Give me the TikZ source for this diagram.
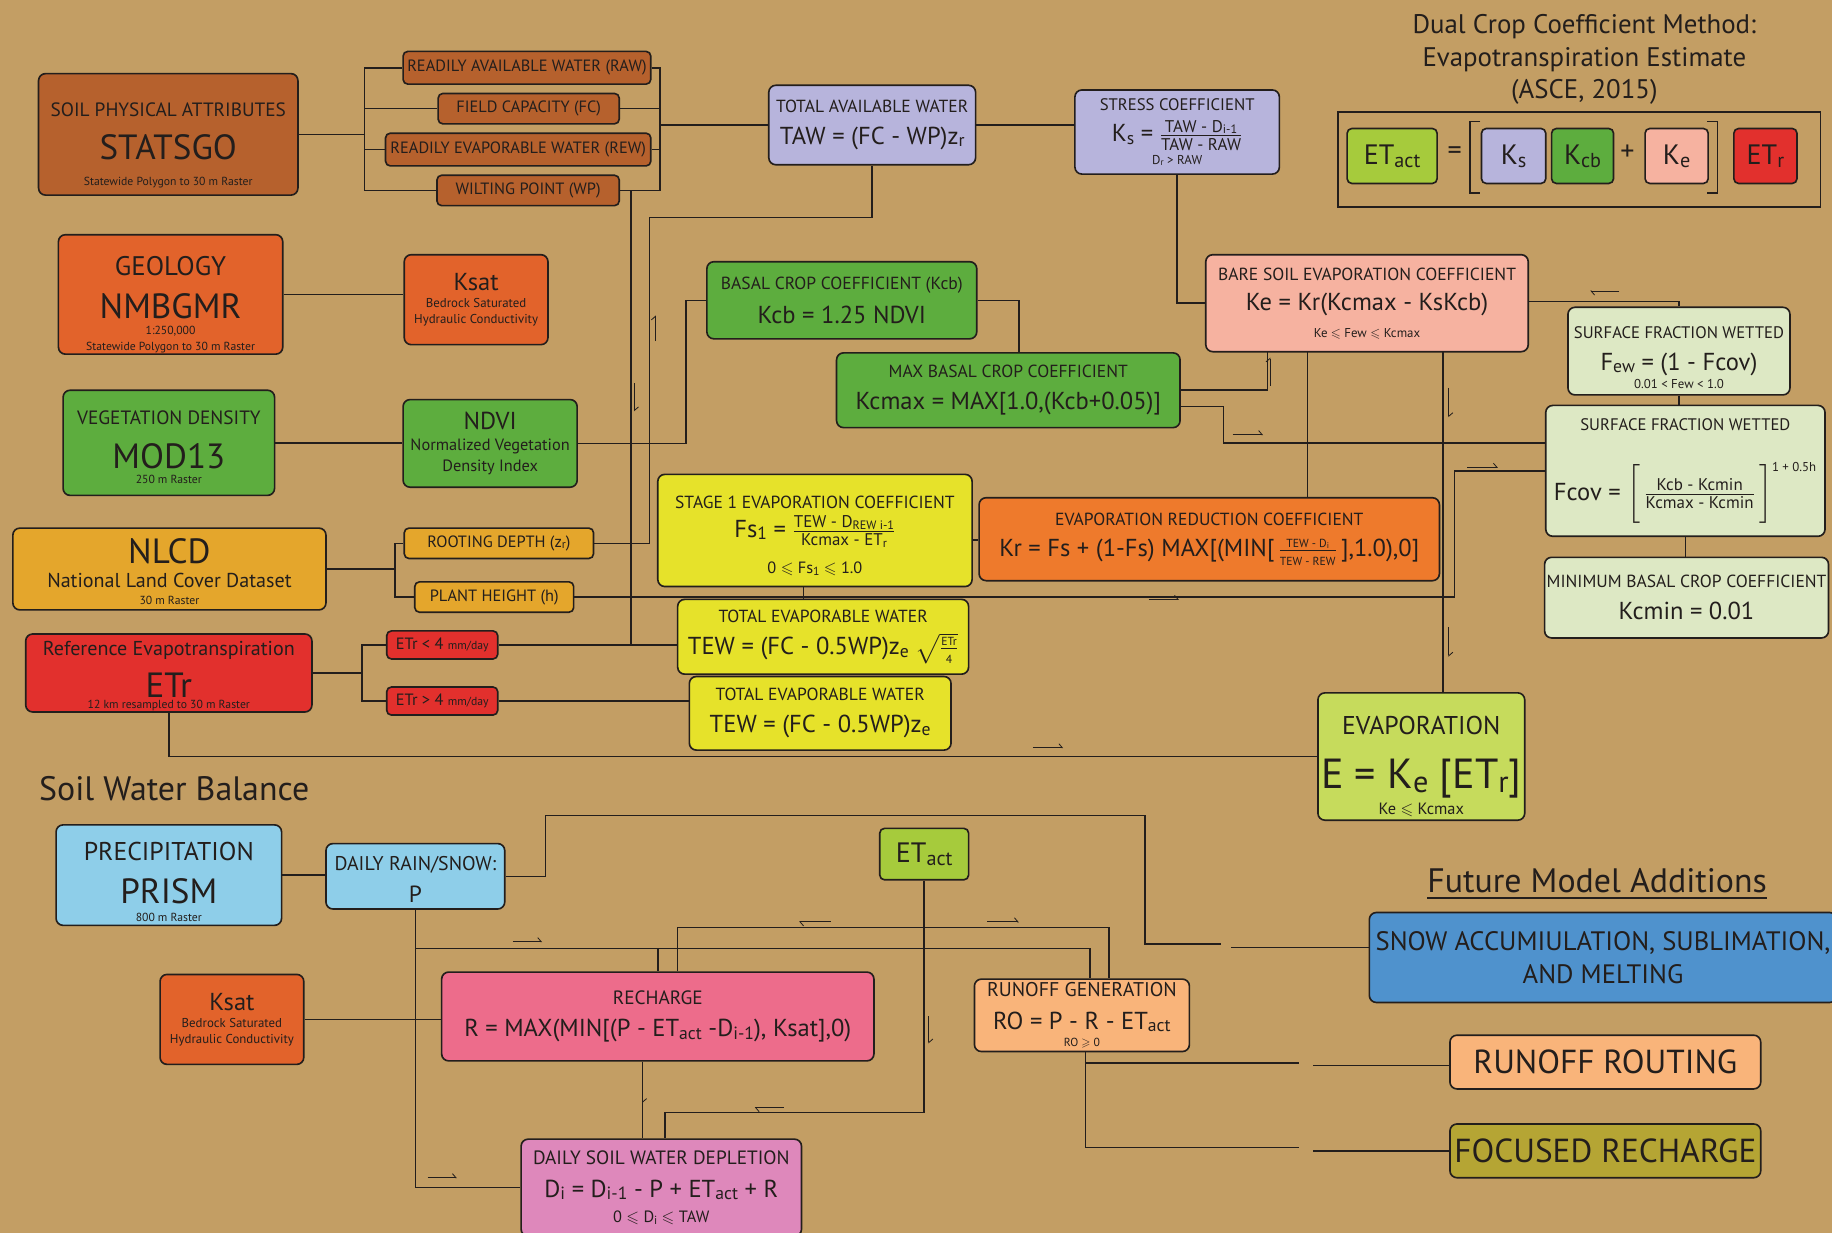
\documentclass[tikz,border=0pt]{standalone}
\usepackage{amsmath,amssymb}
\usepackage{fontspec}
\setmainfont{PT Sans}
\usetikzlibrary{arrows.meta}
\definecolor{tanbg}{RGB}{195,158,100}
\definecolor{ink}{RGB}{35,30,28}
\definecolor{soilbrown}{RGB}{182,97,45}
\definecolor{geoorange}{RGB}{226,99,43}
\definecolor{veggreen}{RGB}{93,173,62}
\definecolor{lcyellow}{RGB}{228,166,44}
\definecolor{etred}{RGB}{226,48,45}
\definecolor{lavender}{RGB}{183,180,220}
\definecolor{salmon}{RGB}{246,178,160}
\definecolor{palegreen}{RGB}{221,232,196}
\definecolor{lemon}{RGB}{230,226,42}
\definecolor{krorange}{RGB}{238,122,44}
\definecolor{evlime}{RGB}{198,219,92}
\definecolor{actlime}{RGB}{166,203,60}
\definecolor{skyblue}{RGB}{142,206,233}
\definecolor{rechpink}{RGB}{237,108,139}
\definecolor{deplpink}{RGB}{222,136,187}
\definecolor{peach}{RGB}{249,180,122}
\definecolor{snowblue}{RGB}{79,146,205}
\definecolor{olive}{RGB}{181,165,52}
% font sizes
\newcommand{\fsrccap}{\fontsize{16.5}{16.5}\selectfont}
\newcommand{\fgeo}{\fontsize{23}{23}\selectfont}
\newcommand{\fsrc}{\fontsize{30}{30}\selectfont}
\newcommand{\fnote}{\fontsize{10}{10}\selectfont}
\newcommand{\fmid}{\fontsize{17.2}{17.2}\selectfont}
\newcommand{\fksat}{\fontsize{21}{21}\selectfont}
\newcommand{\fsmall}{\fontsize{11}{11}\selectfont}
\newcommand{\fndvi}{\fontsize{14}{14}\selectfont}
\newcommand{\fchip}{\fontsize{14}{14}\selectfont}
\newcommand{\fcapt}{\fontsize{15}{15}\selectfont}
\newcommand{\fcapts}{\fontsize{14.3}{14.3}\selectfont}
\newcommand{\fcaptl}{\fontsize{16.5}{16.5}\selectfont}
\newcommand{\ffrac}{\fontsize{14.5}{14.5}\selectfont}
\newcommand{\feqn}{\fontsize{21}{21}\selectfont}
\newcommand{\fev}{\fontsize{36}{36}\selectfont}
\newcommand{\fevc}{\fontsize{22}{22}\selectfont}
\newcommand{\frocap}{\fontsize{17}{17}\selectfont}
\newcommand{\fcond}{\fontsize{14}{14}\selectfont}
\newcommand{\fcondsm}{\fontsize{11}{11}\selectfont}
\newcommand{\frain}{\fontsize{20}{20}\selectfont}
\newcommand{\fbig}{\fontsize{24}{24}\selectfont}
\newcommand{\fhead}{\fontsize{29}{29}\selectfont}
\newcommand{\ffut}{\fontsize{28.5}{28.5}\selectfont}
\newcommand{\fsnow}{\fontsize{22.8}{22.8}\selectfont}
\newcommand{\ftitle}{\fontsize{23}{28}\selectfont}
\newcommand{\lo}[1]{\raisebox{-0.1em}{\scalebox{0.72}{#1}}}
\newcommand{\tp}[1]{\rule{0pt}{#1pt}}
\tikzset{
  box/.style   = {draw=ink, line width=1.4pt, rounded corners=6pt, align=center, inner sep=1pt, text=ink, font=\fontsize{1}{1}\selectfont},
  chip/.style  = {box, rounded corners=4pt, fill=soilbrown},
  wh/.style 2 args = {minimum width=#1pt, minimum height=#2pt},
  wire/.style  = {draw=ink, line width=1.3pt},
  flowmark/.style = {draw=ink, line width=0.7pt, -{Straight Barb[left,length=3pt,width=7pt]}},
}
\begin{document}
\begin{tikzpicture}[x=1pt,y=-1pt]
  \useasboundingbox (0,0) rectangle (1568,1055);
  \fill[tanbg] (0,0) rectangle (1568,1055);

  % dual crop coefficient method
  \node[align=center, text=ink, font=\ftitle] (title) at (1356,51) {Dual Crop Coefficient Method:\\Evapotranspiration Estimate\\(ASCE, 2015)};
  \node[draw=ink, line width=1.3pt, wh={413}{81}] (eqframe) at (1351.5,136.5) {};
  \node[box, rounded corners=4pt, fill=actlime, wh={77}{47}] (etacteq) at (1191.5,133.5) {{\fbig ET\lo{act}}};
  \node[text=ink, font=\fbig] (eqsign) at (1245,131) {=};
  \node[box, rounded corners=4pt, fill=lavender, wh={55}{47}] (kseq) at (1295.5,133.5) {{\fbig K\lo{s}}};
  \node[box, rounded corners=4pt, fill=veggreen, wh={53}{47}] (kcbeq) at (1354.5,133.5) {{\fbig K\lo{cb}}};
  \node[text=ink, font=\fbig] (plussign) at (1393,131) {+};
  \node[box, rounded corners=4pt, fill=salmon, wh={54}{47}] (keeq) at (1435,133.5) {{\fbig K\lo{e}}};
  \node[box, rounded corners=4pt, fill=etred, wh={54}{47}] (etreq) at (1511,133.5) {{\fbig ET\lo{r}}};
  \draw[wire] (1267,104) -| (1258,165) -- (1267,165);
  \draw[wire] (1461,104) -| (1470,165) -- (1461,165);

  % data sources
  \node[box, fill=soilbrown, wh={222}{104}] (statsgo) at (144,115)
    {\tp{30.4}{\fsrccap SOIL PHYSICAL ATTRIBUTES}\\[14.7pt]{\fsrc STATSGO}\\[13.7pt]{\fnote Statewide Polygon to 30 m Raster}};
  \node[box, fill=geoorange, wh={192}{102}] (geology) at (146,252)
    {\tp{33.7}{\fgeo GEOLOGY}\\[14.5pt]{\fsrc NMBGMR}\\[5pt]{\fnote 1:250,000}\\[4.2pt]{\fnote Statewide Polygon to 30 m Raster}};
  \node[box, fill=veggreen, wh={181}{90}] (mod13) at (144.5,379)
    {\tp{19.4}{\fsrccap VEGETATION DENSITY}\\[14.7pt]{\fsrc MOD13}\\[4.7pt]{\fnote 250 m Raster}};
  \node[box, fill=lcyellow, wh={268}{70}] (nlcd) at (145,487)
    {\tp{26}{\fsrc NLCD}\\[6.6pt]{\fmid National Land Cover Dataset}\\[6.5pt]{\fnote 30 m Raster}};
  \node[box, fill=etred, wh={245}{66}] (etr) at (144.5,576)
    {\tp{17.6}{\fmid Reference Evapotranspiration}\\[9.9pt]{\fsrc ETr}\\[1.7pt]{\fnote 12 km resampled to 30 m Raster}};

  % soil attributes
  \node[chip, wh={212}{28}] (raw) at (451,58) {{\fchip READILY AVAILABLE WATER (RAW)}};
  \node[chip, wh={155}{26}] (fc) at (452.5,93) {{\fchip FIELD CAPACITY (FC)}};
  \node[chip, wh={227}{28}] (rew) at (443.5,128) {{\fchip READILY EVAPORABLE WATER (REW)}};
  \node[chip, wh={156}{26}] (wp) at (452,163) {{\fchip WILTING POINT (WP)}};
  \node[box, fill=geoorange, wh={123}{77}] (ksattop) at (407.5,256.5)
    {{\fksat Ksat}\\[5.5pt]{\fsmall Bedrock Saturated}\\[5pt]{\fsmall Hydraulic Conductivity}};
  \node[box, fill=veggreen, wh={149}{75}] (ndvi) at (419.5,379.5)
    {{\fksat NDVI}\\[7.4pt]{\fndvi Normalized Vegetation}\\[3.8pt]{\fndvi Density Index}};
  \node[chip, fill=lcyellow, wh={162}{26}] (zr) at (427,465) {{\fchip ROOTING DEPTH (z\lo{r})}};
  \node[chip, fill=lcyellow, wh={136}{26}] (hgt) at (423,511) {{\fchip PLANT HEIGHT (h)}};
  \node[chip, fill=etred, wh={95}{24}] (etrlo) at (378.5,552) {{\fchip ETr < 4 {\fnote mm/day}}};
  \node[chip, fill=etred, wh={95}{24}] (etrhi) at (378.5,600) {{\fchip ETr > 4 {\fnote mm/day}}};

  % coefficients
  \node[box, fill=lavender, wh={177}{68}] (taw) at (746.5,107)
    {{\fcapt TOTAL AVAILABLE WATER}\\[11.1pt]{\feqn TAW = (FC - WP)z\lo{r}}};
  \node[box, fill=lavender, wh={175}{72}] (ks) at (1007.5,113)
    {{\fcapts STRESS COEFFICIENT}\\[7.3pt]{\feqn K\lo{s} = $\frac{\text{\ffrac TAW - D\lo{i-1}}}{\text{\ffrac TAW - RAW}}$}\\[3.3pt]{\fcondsm D\lo{r} > RAW}};
  \node[box, fill=veggreen, wh={231}{66}] (kcb) at (720.5,257)
    {{\fcapt BASAL CROP COEFFICIENT (Kcb)}\\[9.8pt]{\feqn Kcb = 1.25 NDVI}};
  \node[box, fill=veggreen, wh={294}{64}] (kcmax) at (863,334)
    {{\fcapt MAX BASAL CROP COEFFICIENT}\\[11.1pt]{\feqn Kcmax = MAX[1.0,(Kcb+0.05)]}};
  \node[box, fill=salmon, wh={276}{83}] (ke) at (1170,259.5)
    {{\fcapt BARE SOIL EVAPORATION COEFFICIENT}\\[10.1pt]{\feqn Ke = Kr(Kcmax - KsKcb)}\\[9.3pt]{\fcondsm Ke $\leqslant$ Few $\leqslant$ Kcmax}};
  \node[box, fill=palegreen, wh={190}{75}] (few) at (1437,300.5)
    {\tp{21.3}{\fcapts SURFACE FRACTION WETTED}\\[11.1pt]{\feqn F\lo{ew} = (1 - Fcov)}\\[2.3pt]{\fcondsm 0.01 < Few < 1.0}};
  \node[box, fill=palegreen, wh={239}{112}] (fcov) at (1442.5,403)
    {{\fcapts SURFACE FRACTION WETTED}\\[26pt]{\feqn Fcov = $\left[\rule[-17pt]{0pt}{44pt}\,\frac{\text{\ffrac Kcb - Kcmin}}{\text{\ffrac Kcmax - Kcmin}}\,\right]^{\text{\fcondsm 1 + 0.5h}}$}};
  \node[box, fill=palegreen, wh={243}{69}] (kcmin) at (1443.5,511.5)
    {{\fcapt MINIMUM BASAL CROP COEFFICIENT}\\[10.8pt]{\feqn Kcmin = 0.01}};
  \node[box, fill=lemon, wh={269}{96}] (fs) at (697.5,454)
    {\tp{20.3}{\fcapt STAGE 1 EVAPORATION COEFFICIENT}\\[4.9pt]{\feqn Fs\lo{1} = $\frac{\text{\ffrac TEW - D\lo{REW i-1}}}{\text{\ffrac Kcmax - ET\lo{r}}}$}\\[11.2pt]{\fcond 0 $\leqslant$ Fs\lo{1} $\leqslant$ 1.0}};
  \node[box, fill=krorange, wh={394}{71}] (kr) at (1035,461.5)
    {{\fcapt EVAPORATION REDUCTION COEFFICIENT}\\[10.1pt]{\feqn Kr = Fs + (1-Fs) MAX[(MIN[$\,\frac{\text{\fnote TEW - D\lo{i}}}{\text{\fnote TEW - REW}}\,$],1.0),0]}};
  \node[box, fill=lemon, wh={249}{64}] (tewsq) at (704.5,545)
    {{\fcapt TOTAL EVAPORABLE WATER}\\[8.5pt]{\feqn TEW = (FC - 0.5WP)z\lo{e} $\sqrt{\frac{\text{\fnote ETr}}{\text{\fnote 4}}}$}};
  \node[box, fill=lemon, wh={224}{63}] (tew) at (702,610.5)
    {{\fcapt TOTAL EVAPORABLE WATER}\\[11.1pt]{\feqn TEW = (FC - 0.5WP)z\lo{e}}};
  \node[box, fill=evlime, wh={177}{109}] (evap) at (1216.5,647.5)
    {\tp{32.4}{\fevc EVAPORATION}\\[19.5pt]{\fev E = K\lo{e} [ET\lo{r}]}\\[3pt]{\fcond Ke $\leqslant$ Kcmax}};

  % soil water balance
  \node[anchor=base west, text=ink, font=\fhead] (swbhead) at (30,685) {Soil Water Balance};
  \node[box, fill=skyblue, wh={193}{86}] (prism) at (144.5,749)
    {\tp{27.2}{\fevc PRECIPITATION}\\[14.8pt]{\fsrc PRISM}\\[6.7pt]{\fnote 800 m Raster}};
  \node[box, fill=skyblue, wh={153}{56}] (rain) at (355.5,750)
    {\tp{16.9}{\frocap DAILY RAIN/SNOW:}\\[10pt]{\frain P}};
  \node[box, rounded corners=4pt, fill=actlime, wh={76}{44}] (etact) at (791,731) {{\fbig ET\lo{act}}};
  \node[box, fill=geoorange, wh={123}{77}] (ksatlo) at (198.5,872.5)
    {{\fksat Ksat}\\[5.5pt]{\fsmall Bedrock Saturated}\\[5pt]{\fsmall Hydraulic Conductivity}};
  \node[box, fill=rechpink, wh={370}{76}] (rech) at (563,870)
    {{\fcaptl RECHARGE}\\[11.6pt]{\feqn R = MAX(MIN[(P - ET\lo{act} -D\lo{i-1}), Ksat],0)}};
  \node[box, fill=peach, wh={184}{62}] (ro) at (926,869)
    {{\frocap RUNOFF GENERATION}\\[12.1pt]{\feqn RO = P - R - ET\lo{act}}\\[4.8pt]{\fnote RO $\geqslant$ 0}};
  \node[box, fill=deplpink, wh={240}{83}] (depl) at (566,1016.5)
    {{\fcaptl DAILY SOIL WATER DEPLETION}\\[12.3pt]{\feqn D\lo{i} = D\lo{i-1} - P + ET\lo{act} + R}\\[8.4pt]{\fcond 0 $\leqslant$ D\lo{i} $\leqslant$ TAW}};

  % future model additions
  \node[text=ink, font=\fhead] (futhead) at (1367,757) {\underline{Future Model Additions}};
  \node[box, fill=snowblue, wh={400}{77}] (snow) at (1372,819.5)
    {{\fsnow SNOW ACCUMIULATION, SUBLIMATION,}\\[8pt]{\fsnow AND MELTING}};
  \node[box, fill=peach, wh={266}{46}] (routing) at (1374,909) {{\ffut RUNOFF ROUTING}};
  \node[box, fill=olive, wh={266}{46}] (focused) at (1374,985) {{\ffut FOCUSED RECHARGE}};

  % soil attribute wiring
  \coordinate (sbus) at (312,115);
  \coordinate (tbus) at (565,107);
  \draw[wire] (statsgo.east) -- (sbus);
  \foreach \n in {raw,fc,rew,wp} {
    \draw[wire] (sbus) |- (\n.west);
    \draw[wire] (\n.east) -| (tbus);
  }
  \draw[wire] (tbus) -- (tbus -| taw.west);
  \coordinate (wpdrop) at (540,163);
  \draw[wire] (wpdrop) -- (wpdrop |- etrlo.east);
  \draw[wire] (taw.east) -- (taw.east -| ks.west);
  \coordinate (zrup) at (556,186);
  \draw[wire] (zr.east) -| (zrup) -| (taw.south);
  \draw[wire] (ks.south) |- (ke.west);
  \draw[wire] (geology.east) -- (geology.east -| ksattop.west);
  \draw[wire] (mod13.east) -- (mod13.east -| ndvi.west);
  \coordinate (ndviup) at (587,257);
  \draw[wire] (ndvi.east) -| (ndviup) -- (kcb.west);
  \coordinate (nbus) at (338,487);
  \draw[wire] (nlcd.east) -- (nbus);
  \draw[wire] (nbus) |- (zr.west);
  \draw[wire] (nbus) |- (hgt.west);
  \coordinate (hturn) at (1245,511);
  \draw[wire] (hgt.east) -- (hturn) |- (fcov.west);

  % coefficient wiring
  \draw[wire] ([xshift=-10pt]fs.south) -- ([xshift=-10pt]fs.south |- tewsq.north);
  \draw[wire] ([yshift=-8pt]fs.east) -- ([yshift=-8pt]fs.east -| kr.west);
  \coordinate (krke) at (1119,301);
  \draw[wire] (krke) -- (krke |- kr.north);
  \coordinate (keev) at (1235,301);
  \draw[wire] (keev) -- (keev |- evap.north);
  \coordinate (kcmke) at (1085,301);
  \draw[wire] (kcmax.east) -| (kcmke);
  \coordinate (kcmfc) at (1047,379);
  \draw[wire] ([yshift=-14pt]kcmax.east) -| (kcmfc) -- (kcmfc -| fcov.west);
  \draw[wire] (kcb.east) -| ([xshift=9pt]kcmax.north);
  \draw[wire] ([yshift=1.5pt]ke.east) -| (few.north);
  \draw[wire] (few.south) -- (few.south |- fcov.north);
  \draw[wire] (fcov.south) -- (fcov.south |- kcmin.north);
  \coordinate (ebus) at (310,576);
  \draw[wire] (etr.east) -- (ebus);
  \draw[wire] (ebus) |- (etrlo.west);
  \draw[wire] (ebus) |- (etrhi.west);
  \draw[wire] (etrlo.east) -- (etrlo.east -| tewsq.west);
  \draw[wire] (etrhi.east) -- (etrhi.east -| tew.west);
  \draw[wire] (etr.south) |- (evap.west);

  % water balance wiring
  \draw[wire] (prism.east) -- (prism.east -| rain.west);
  \coordinate (rainup) at (467,698);
  \coordinate (raindn) at (980,698);
  \coordinate (snowgap) at (1045,808);
  \coordinate (snowjoin) at (1054,811);
  \draw[wire] (rain.east) -| (rainup) -- (raindn) |- (snowgap);
  \draw[wire] (snowjoin) -- (snowjoin -| snow.west);
  \draw[wire] (rain.south) |- (depl.west);
  \coordinate (rainro) at (933,812);
  \draw[wire] (rain.south |- rainro) -| ([xshift=7pt]ro.north);
  \draw[wire] (rech.north |- rainro) -- (rech.north);
  \coordinate (etlo) at (569,952);
  \draw[wire] (etact.south) |- (etlo) -- (etlo |- depl.north);
  \coordinate (ethi) at (580,794);
  \draw[wire] (ethi |- rech.north) -- (ethi) -| ([xshift=23pt]ro.north);
  \draw[wire] (ksatlo.east) -- (ksatlo.east -| rech.west);
  \draw[wire] ([xshift=-13pt]rech.south) -- ([xshift=-13pt]rech.south |- depl.north);
  \coordinate (routegap) at (1112,910);
  \coordinate (routejoin) at (1124,912);
  \coordinate (focgap) at (1112,982);
  \coordinate (focjoin) at (1124,985);
  \draw[wire] ([xshift=3pt]ro.south) |- (focgap);
  \draw[wire] ([xshift=3pt]ro.south |- routegap) -- (routegap);
  \draw[wire] (routejoin) -- (routejoin -| routing.west);
  \draw[wire] (focjoin) -- (focjoin -| focused.west);

  % direction marks
  \foreach \x/\y/\dx/\dy in {561/292/0/-22, 543/328/0/24, 1087/330/0/-24, 1240/332/0/25,
      1055/372/26/0, 1256/400/26/0, 983/513/26/0, 1240/537/0/25, 884/640/26/0,
      1386/249/-25/0, 439/806/25/0, 711/789/-27/0, 845/789/27/0, 550/920/0/24,
      671/948/-25/0, 366/1008/25/0, 795/870/0/23}
    \draw[flowmark] (\x,\y) -- ++(\dx,\dy);
\end{tikzpicture}
\end{document}
